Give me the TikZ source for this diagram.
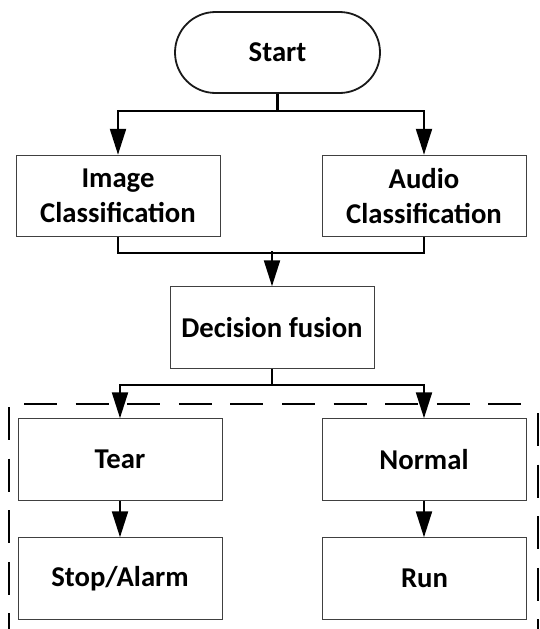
\documentclass[tikz,border=0pt]{standalone}
\usepackage{fontspec}
\setmainfont{Carlito}
\usetikzlibrary{arrows.meta,shapes.misc}
\begin{document}
\begin{tikzpicture}[x=1pt,y=-1pt,
  lbl/.style={font=\fontsize{28.7}{35}\selectfont\bfseries, align=center, text=black},
  box/.style={lbl, draw=black!75, line width=1pt, minimum width=204pt,
              minimum height=81.5pt, inner sep=0pt},
  term/.style={lbl, rounded rectangle, draw=black!90, line width=1.8pt,
               minimum width=205pt, minimum height=81pt, inner sep=0pt},
  conn/.style={line width=2.2pt, line join=miter, draw=black},
  arr/.style={conn, -{Triangle[length=26pt,width=16pt]}},
  frame/.style={line width=2pt, draw=black, dash pattern=on 33pt off 18.6pt}]
  \useasboundingbox (0,0) rectangle (539,629);

  % nodes
  \node[term] (start) at (277.5,52.5) {Start};
  \node[box]  (img)   at (118,196)    {Image\\Classification};
  \node[box]  (aud)   at (424,196)    {Audio\\Classification};
  \node[box]  (fus)   at (272,327.5)  {Decision fusion};
  \node[box]  (tear)  at (120,459.5)  {Tear};
  \node[box]  (norm)  at (424,459.5)  {Normal};
  \node[box]  (stop)  at (120,578.5)  {Stop/Alarm};
  \node[box]  (run)   at (424.5,578.5){Run};

  % dashed outcome frame (open at the bottom)
  \coordinate (ftl) at (24,404);
  \coordinate (ftr) at (522,404);
  \coordinate (fl1) at (9,407);
  \coordinate (fl2) at (9,629);
  \coordinate (fr1) at (538,413);
  \coordinate (fr2) at (538,629);
  \draw[frame] (ftl) -- (ftr);
  \draw[frame] (fl1) -- (fl2);
  \draw[frame] (fr1) -- (fr2);

  % fan-out from Start
  \draw[arr] (start.south) -- ++(0,17) -| (img.north);
  \draw[arr] (start.south) -- ++(0,17) -| (aud.north);

  % merge into decision fusion
  \draw[conn] (img.south) -- ++(0,15.5) -| (aud.south);
  \path (fus.north) ++(0,-35) coordinate (mj);
  \draw[arr] (mj) -- (fus.north);

  % split to outcomes
  \draw[arr] (fus.south) -- ++(0,16) -| (tear.north);
  \draw[arr] (fus.south) -- ++(0,16) -| (norm.north);

  % actions
  \draw[arr] (tear.south) -- (stop.north);
  \draw[arr] (norm.south) -- (norm.south |- run.north);
\end{tikzpicture}
\end{document}
